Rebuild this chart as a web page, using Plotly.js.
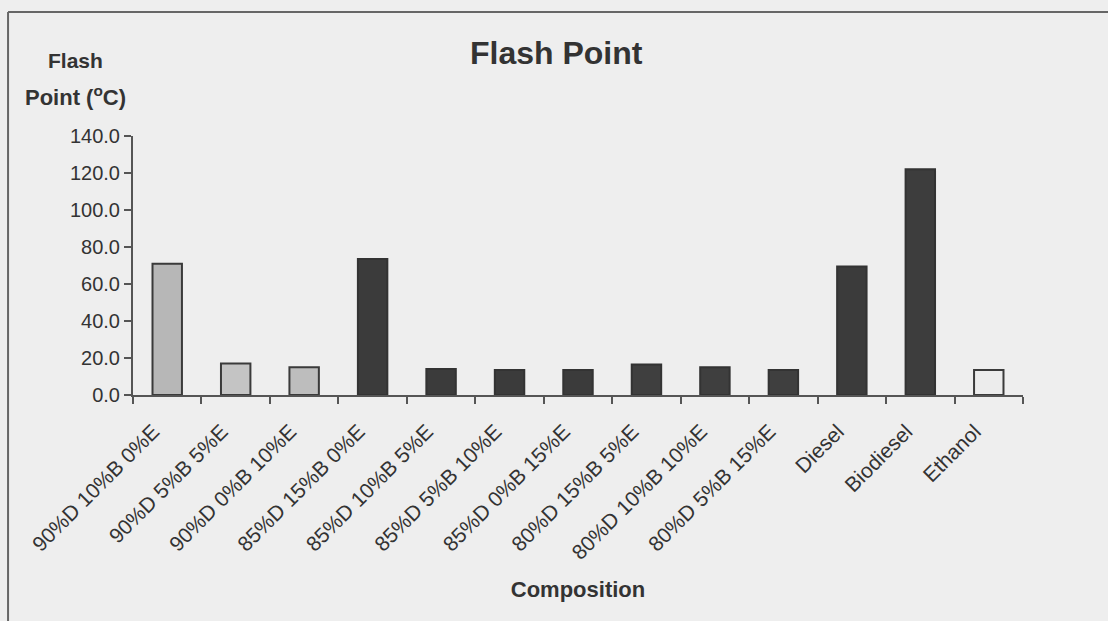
<!DOCTYPE html>
<html>
<head>
<meta charset="utf-8">
<script src="https://cdn.plot.ly/plotly-3.0.1.min.js"></script>
<style>
html,body{margin:0;padding:0;background:#eeeeee;}
#chart{width:1108px;height:621px;}
</style>
</head>
<body>
<div id="chart"></div>
<script>
const categories = [
  "90%D 10%B 0%E", "90%D 5%B 5%E", "90%D 0%B 10%E",
  "85%D 15%B 0%E", "85%D 10%B 5%E", "85%D 5%B 10%E", "85%D 0%B 15%E",
  "80%D 15%B 5%E", "80%D 10%B 10%E", "80%D 5%B 15%E",
  "Diesel", "Biodiesel", "Ethanol"
];
const flashPoint = [71.0, 17.0, 15.0, 73.5, 14.0, 13.5, 13.5, 16.5, 15.0, 13.5, 69.5, 122.0, 13.5];
const barColors = ["#b7b7b7", "#c4c4c4", "#bdbdbd",
  "#3b3b3b", "#3b3b3b", "#3b3b3b", "#3b3b3b",
  "#3f3f3f", "#3f3f3f", "#3f3f3f",
  "#3b3b3b", "#3d3d3d", "#ececec"];
const barLines = ["#3a3a3a", "#3a3a3a", "#3a3a3a",
  "#333333", "#333333", "#333333", "#333333",
  "#333333", "#333333", "#333333",
  "#333333", "#333333", "#3a3a3a"];

const font = "Liberation Sans, Arial, sans-serif";

const trace = {
  type: "bar",
  x: categories,
  y: flashPoint,
  marker: {color: barColors, line: {color: barLines, width: 2}},
  hoverinfo: "x+y"
};

const layout = {
  width: 1108, height: 621,
  margin: {l: 133, r: 85, t: 136, b: 226},
  paper_bgcolor: "#eeeeee",
  plot_bgcolor: "#eeeeee",
  showlegend: false,
  bargap: 0.57,
  font: {family: font, color: "#333333"},
  title: {text: "<b>Flash Point</b>", font: {family: font, size: 32, color: "#333333"},
          x: 0.502, xanchor: "center", y: 0.915, yanchor: "middle"},
  xaxis: {
    type: "category",
    tickangle: -45,
    tickfont: {family: font, size: 21, color: "#333333"},
    ticklabelstandoff: 14,
    ticklabelshift: -14,
    showline: true, linecolor: "#555555", linewidth: 2,
    ticks: "outside", ticklen: 7, tickcolor: "#555555", tickwidth: 2,
    tickson: "boundaries",
    showgrid: false, zeroline: false,
    title: {text: "<b>Composition</b>", font: {family: font, size: 22, color: "#333333"}, standoff: 19}
  },
  yaxis: {
    range: [0, 140], dtick: 20, tick0: 0,
    tickformat: ".1f",
    tickfont: {family: font, size: 20, color: "#333333"},
    showline: true, linecolor: "#555555", linewidth: 2,
    ticks: "outside", ticklen: 7, tickcolor: "#555555", tickwidth: 2,
    showgrid: false, zeroline: false
  },
  annotations: [
    {text: "<b>Flash</b>", xref: "paper", yref: "paper", x: -0.065, y: 1.29,
     xanchor: "center", yanchor: "middle", showarrow: false,
     font: {family: font, size: 21, color: "#333333"}},
    {text: "<b>Point (<sup>o</sup>C)</b>", xref: "paper", yref: "paper", x: -0.065, y: 1.155,
     xanchor: "center", yanchor: "middle", showarrow: false,
     font: {family: font, size: 22, color: "#333333"}}
  ],
  shapes: [
    {type: "line", xref: "paper", yref: "paper", x0: -0.1404, x1: 1.1, y0: 1.479, y1: 1.479,
     line: {color: "#666666", width: 2}},
    {type: "line", xref: "paper", yref: "paper", x0: -0.1404, x1: -0.1404, y0: 1.479, y1: -0.88,
     line: {color: "#666666", width: 2}}
  ]
};

Plotly.newPlot("chart", [trace], layout, {displayModeBar: false, staticPlot: true});
</script>
</body>
</html>
